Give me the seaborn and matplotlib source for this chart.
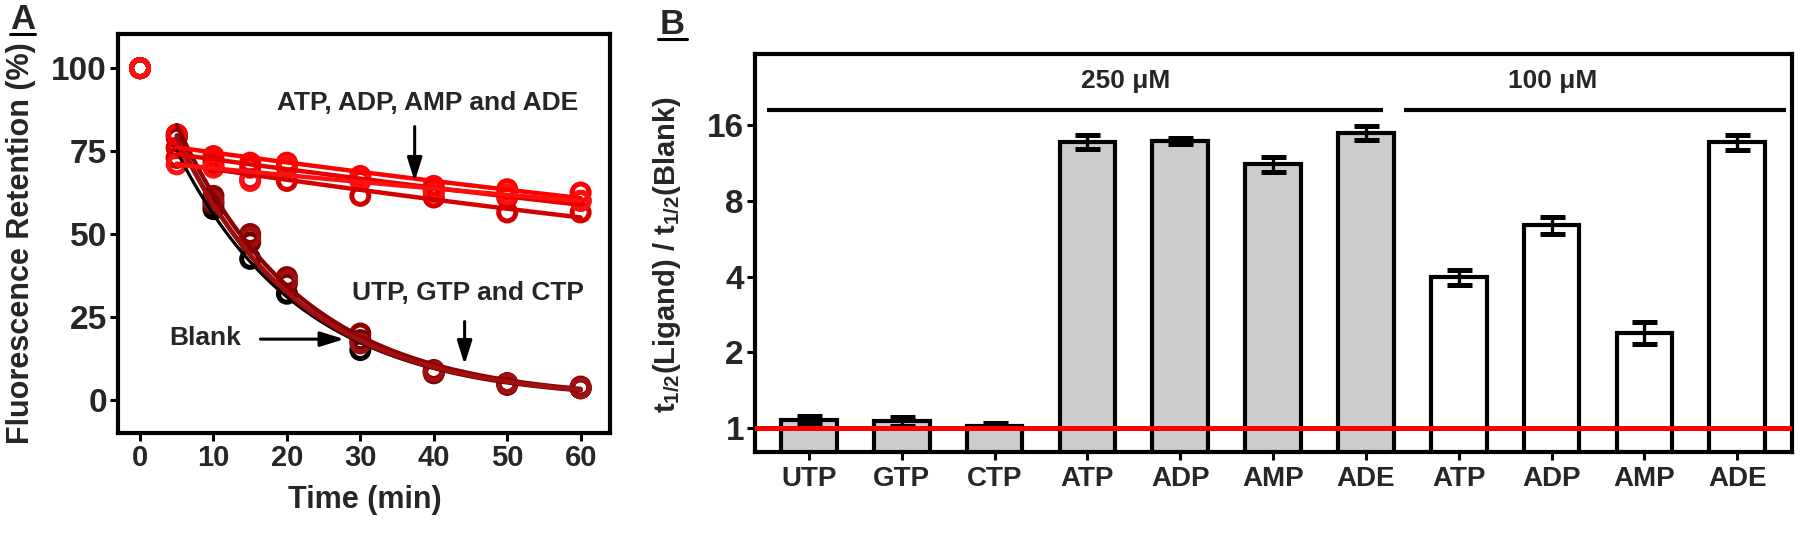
import numpy as np
import pandas as pd
import matplotlib
matplotlib.use("Agg")
import matplotlib.pyplot as plt
import seaborn as sns
from matplotlib.lines import Line2D
from matplotlib.ticker import NullLocator

# ---------------- Panel A data (Fluorescence retention, %) ----------------
time_min = [0, 5, 10, 15, 20, 30, 40, 50, 60]
blank_a = [100, 80, 57.5, 42.5, 32, 15, 8.5, 5, 3.5]
utp_a = [100, 79, 61.5, 50, 37, 20, 9, 5, 4]
gtp_a = [100, 76, 59, 47.5, 35, 18, 8, 4.5, 3.5]
ctp_a = [100, 73, 60, 49, 36, 17, 8.5, 5, 3.5]
atp_a = [100, 80, 73.5, 71.5, 71.5, 67.5, 64.5, 63.5, 62.5]
adp_a = [100, 76, 72, 70, 70, 66, 63, 61, 60]
amp_a = [100, 73, 70.5, 66.5, 66, 61.5, 61, 56.5, 56.5]
ade_a = [100, 71, 70, 66, 70.5, 66.5, 62.5, 62, 60]

# ---------------- Panel B data ----------------
ligands = ["UTP", "GTP", "CTP", "ATP", "ADP", "AMP", "ADE", "ATP", "ADP", "AMP", "ADE"]
conc = ["250 μM"] * 7 + ["100 μM"] * 4
ratio = [1.07, 1.06, 1.02, 13.8, 13.9, 11.2, 14.9, 3.97, 6.39, 2.39, 13.7]
ratio_err = [0.04, 0.04, 0.02, 0.9, 0.35, 0.75, 0.95, 0.27, 0.5, 0.24, 0.9]

sns.set_theme(style="ticks")
plt.rcParams["font.family"] = ["Liberation Sans", "DejaVu Sans"]
plt.rcParams["font.weight"] = "bold"
plt.rcParams["axes.labelweight"] = "bold"
plt.rcParams["mathtext.fontset"] = "custom"
plt.rcParams["mathtext.rm"] = "Liberation Sans:bold"
plt.rcParams["mathtext.it"] = "Liberation Sans:italic:bold"
plt.rcParams["mathtext.bf"] = "Liberation Sans:bold"

W, H = 1800, 547
fig = plt.figure(figsize=(W / 100, H / 100), dpi=100)

def frac_box(l, t, r, b):
    return [l / W, 1 - b / H, (r - l) / W, (b - t) / H]

axA = fig.add_axes(frac_box(118, 34, 610, 433))
axB = fig.add_axes(frac_box(755, 54, 1792, 452))

def style_axes(ax):
    for sp in ax.spines.values():
        sp.set_visible(True)
        sp.set_linewidth(3)
        sp.set_color("black")
    ax.tick_params(axis="both", which="major", direction="out", length=6,
                   width=2.2, color="black", pad=2, top=False, right=False)
    ax.tick_params(axis="both", which="minor", length=0)
    ax.set_facecolor("white")

# ---------------- Panel A ----------------
series = [
    ("Blank", blank_a, "#000000", 2.3),
    ("UTP", utp_a, "#8B0000", 3.2),
    ("GTP", gtp_a, "#700000", 3.2),
    ("CTP", ctp_a, "#A01010", 3.2),
    ("ATP", atp_a, "#FF0000", 3.2),
    ("ADP", adp_a, "#E80000", 3.2),
    ("AMP", amp_a, "#D40000", 3.2),
    ("ADE", ade_a, "#FF1010", 3.2),
]

for name, vals, col, lw in series:
    sns.scatterplot(x=time_min, y=vals, ax=axA, marker="o", s=150,
                    color=col, facecolor="none", edgecolor=col,
                    linewidth=3.6, zorder=2, legend=False)

t_arr = np.array(time_min, dtype=float)
for name, vals, col, lw in series:
    v = np.array(vals, dtype=float)
    m = t_arr >= 5
    slope, icpt = np.polyfit(t_arr[m], np.log(v[m]), 1)
    tt = np.linspace(5, 60, 120)
    sns.lineplot(x=tt, y=np.exp(icpt + slope * tt), ax=axA, color=col,
                 linewidth=lw, zorder=3, legend=False)

axA.set_xlim(-3, 64)
axA.set_ylim(-10, 110.3)
axA.set_xticks([0, 10, 20, 30, 40, 50, 60])
axA.set_yticks([0, 25, 50, 75, 100])
style_axes(axA)
axA.tick_params(axis="x", labelsize=21)
axA.tick_params(axis="y", labelsize=24)
for lab in axA.get_xticklabels() + axA.get_yticklabels():
    lab.set_fontweight("bold")
axA.set_xlabel("Time (min)", fontsize=22, fontweight="bold")
axA.set_ylabel("Fluorescence Retention (%)", fontsize=22, fontweight="bold")
axA.xaxis.set_label_coords(0.501, -0.168)
axA.xaxis.label.set_va("center")
axA.yaxis.set_label_coords(-0.197, 0.476)
axA.yaxis.label.set_va("center")

ann_kw = dict(fontsize=19, fontweight="bold", ha="center", va="center")
axA.text(39.1, 89.4, "ATP, ADP, AMP and ADE", **ann_kw)
axA.text(44.7, 32.2, "UTP, GTP and CTP", **ann_kw)
axA.text(8.9, 18.6, "Blank", **ann_kw)
arrow = dict(arrowstyle="-|>,head_length=0.8,head_width=0.25", color="black",
             lw=2.2, mutation_scale=18, shrinkA=0, shrinkB=0)
axA.annotate("", xy=(37.4, 65.8), xytext=(37.4, 82.4), arrowprops=arrow, zorder=5)
axA.annotate("", xy=(44.2, 10.6), xytext=(44.2, 23.6), arrowprops=arrow, zorder=5)
axA.annotate("", xy=(27.8, 18.3), xytext=(16.4, 18.3), arrowprops=arrow, zorder=5)

# ---------------- Panel B ----------------
pos = list(range(len(ligands)))
dfB = pd.DataFrame({"pos": pos, "ratio": ratio, "conc": conc})
sns.barplot(data=dfB, x="pos", y="ratio", hue="conc", native_scale=True,
            palette={"250 μM": "#CCCCCC", "100 μM": "#FFFFFF"},
            dodge=False, width=0.6, edgecolor="black", linewidth=3,
            errorbar=None, legend=False, ax=axB, zorder=2)
axB.errorbar(pos, ratio, yerr=ratio_err, fmt="none", ecolor="black",
             elinewidth=2.4, capsize=9, capthick=3.6, zorder=3)
axB.axhline(1, color="red", lw=3.6, zorder=4)

axB.set_yscale("log", base=2)
axB.set_ylim(0.8, 30.8)
axB.set_xlim(-0.58, 10.59)
axB.set_yticks([1, 2, 4, 8, 16])
axB.set_yticklabels(["1", "2", "4", "8", "16"])
axB.yaxis.set_minor_locator(NullLocator())
axB.set_xticks(pos)
axB.set_xticklabels(ligands)
style_axes(axB)
axB.tick_params(axis="y", labelsize=24)
axB.tick_params(axis="x", labelsize=20, pad=4)
for lab in axB.get_xticklabels() + axB.get_yticklabels():
    lab.set_fontweight("bold")
axB.set_xlabel("")
axB.set_ylabel(r"t$_{\mathit{1/2}}$(Ligand) / t$_{\mathit{1/2}}$(Blank)",
               fontsize=21, fontweight="bold")
axB.yaxis.set_label_coords(-0.0844, 0.496)
axB.yaxis.label.set_va("center")

# concentration group bars
axB.plot([-0.45, 6.18], [18.5, 18.5], color="black", lw=3, solid_capstyle="butt")
axB.plot([6.41, 10.53], [18.5, 18.5], color="black", lw=3, solid_capstyle="butt")
axB.text(3.41, 24.0, "250 μM", fontsize=19, fontweight="bold", ha="center", va="center")
axB.text(8.01, 24.0, "100 μM", fontsize=19, fontweight="bold", ha="center", va="center")

# panel letters with underline
fig.text(22.5 / W, 1 - 19.5 / H, "A", fontsize=25, fontweight="bold", ha="center", va="center")
fig.add_artist(Line2D([10 / W, 35 / W], [1 - 34 / H, 1 - 34 / H], color="black", lw=2.2))
fig.text(672.5 / W, 1 - 24 / H, "B", fontsize=25, fontweight="bold", ha="center", va="center")
fig.add_artist(Line2D([658 / W, 687 / W], [1 - 39 / H, 1 - 39 / H], color="black", lw=2.2))

fig.savefig("out.png", dpi=100, facecolor="white")
